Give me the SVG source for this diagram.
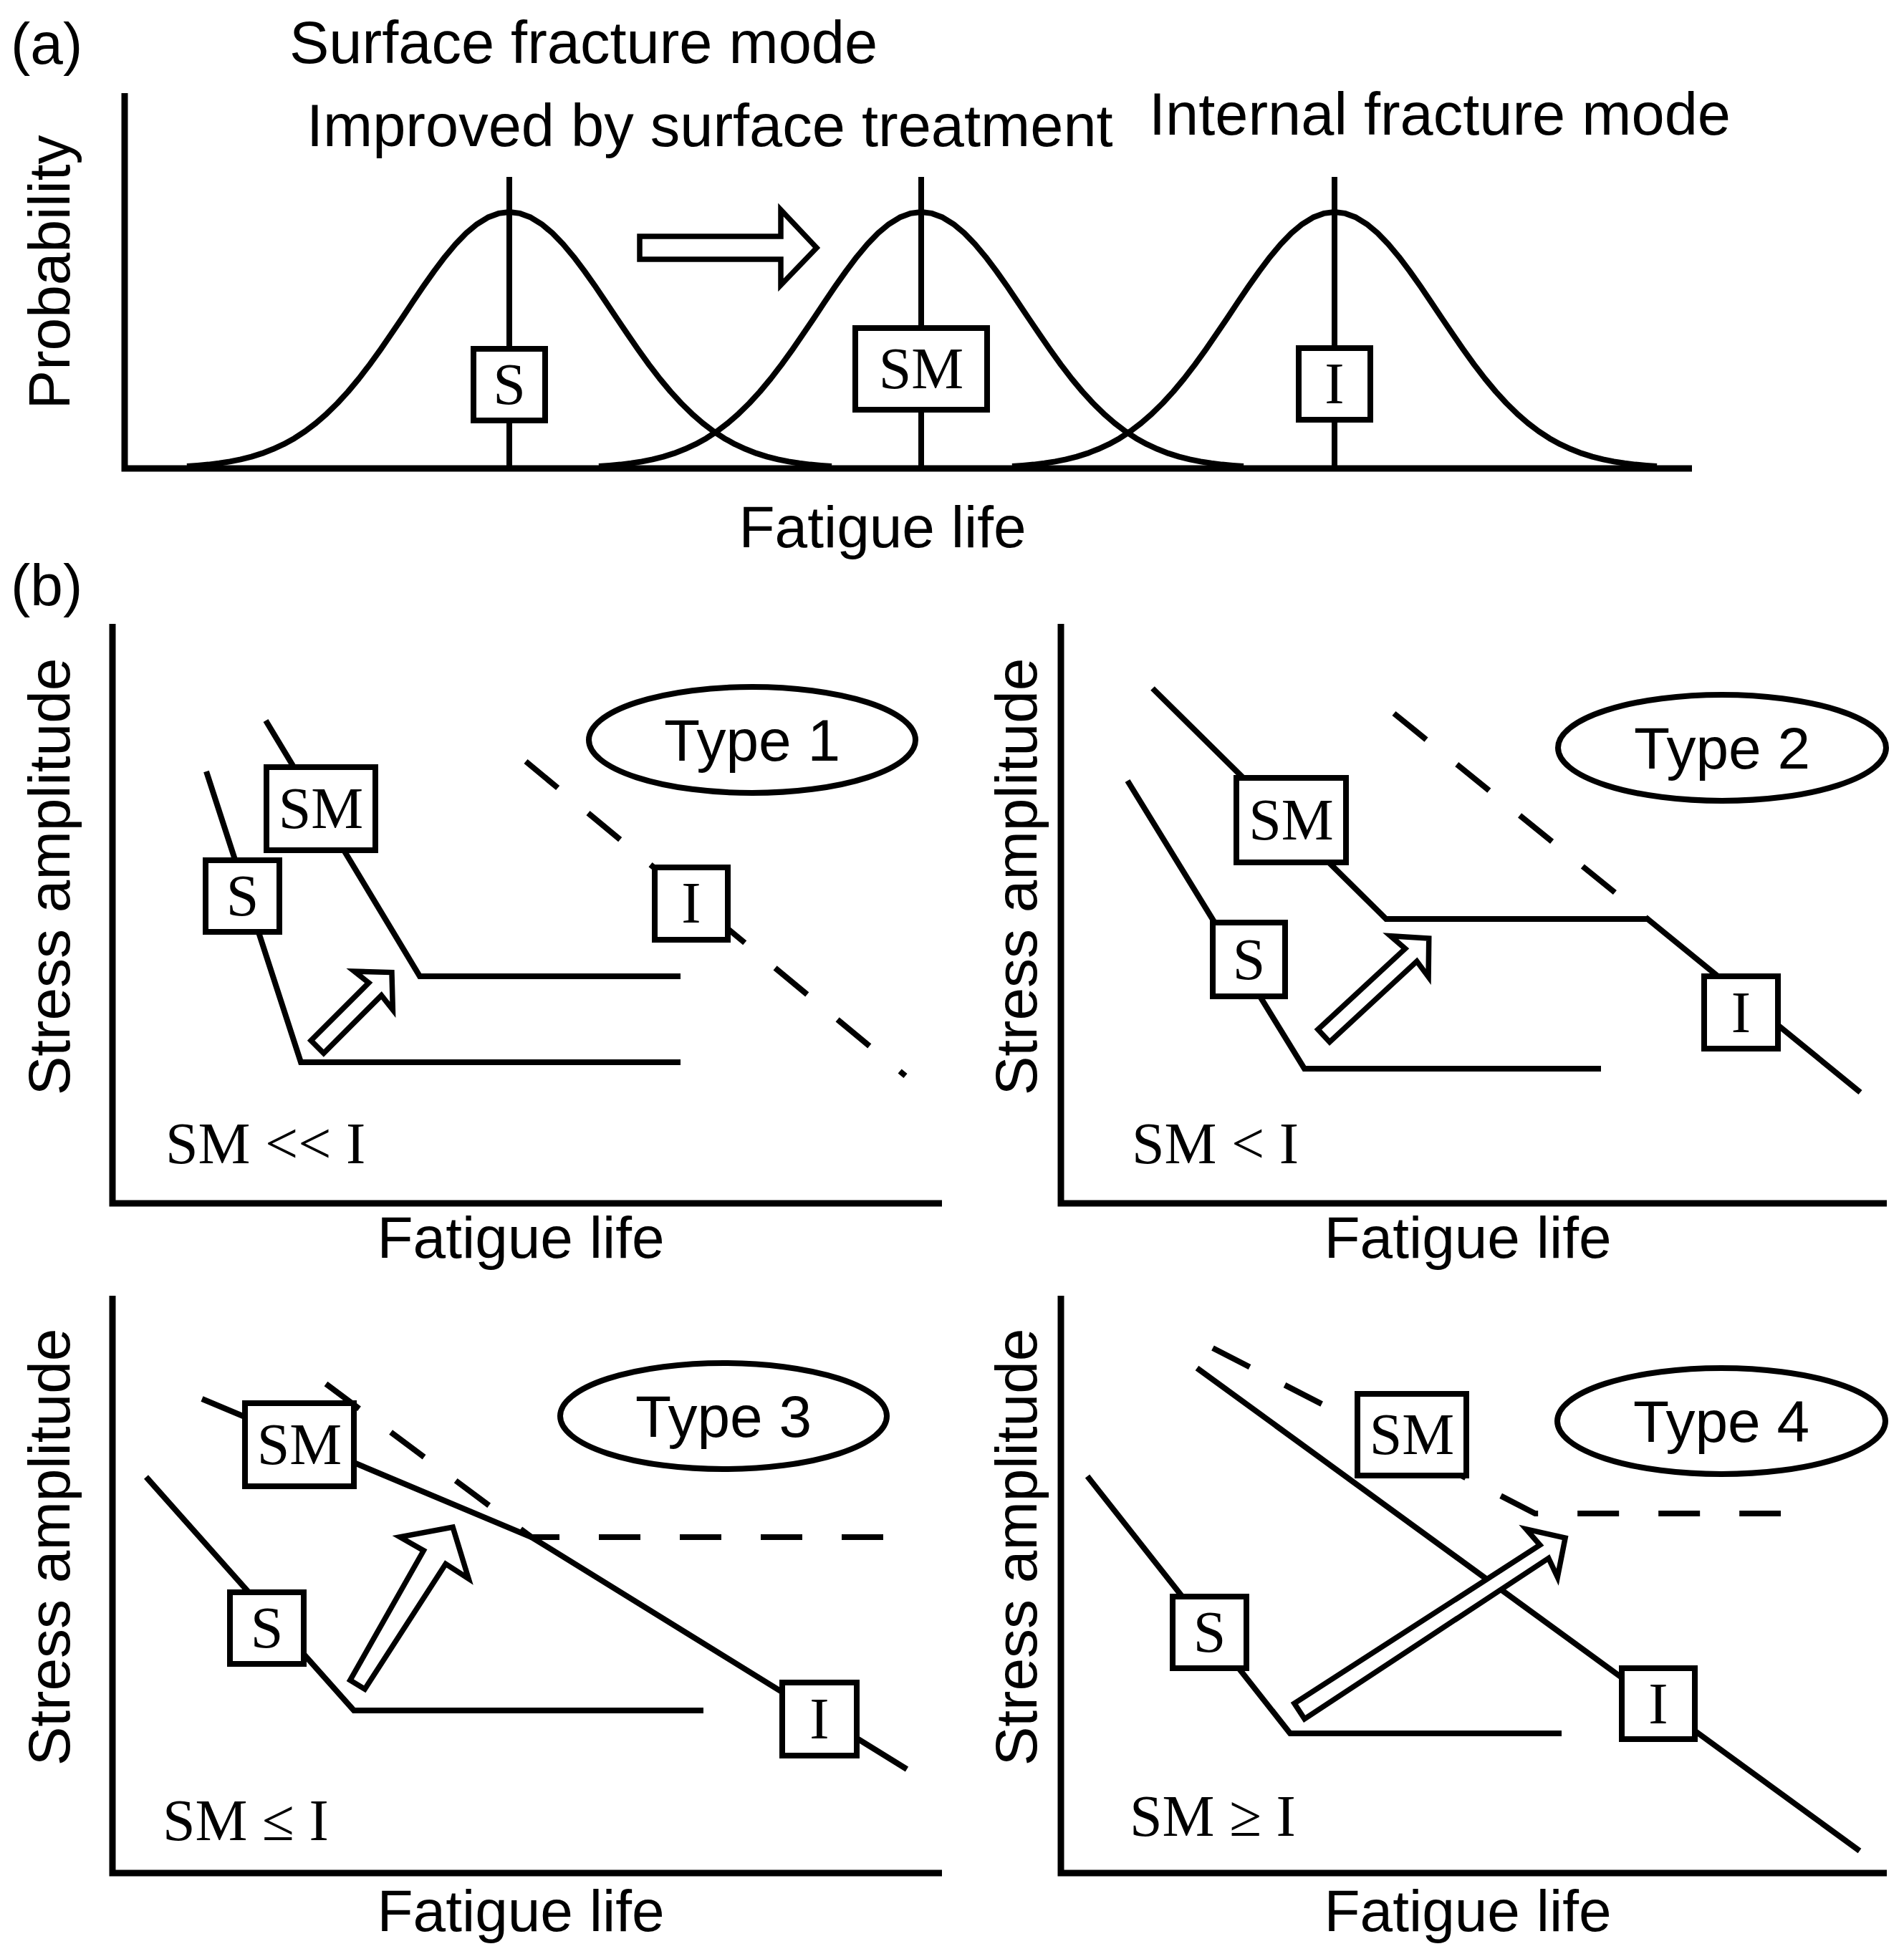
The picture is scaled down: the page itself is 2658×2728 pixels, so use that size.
<svg xmlns="http://www.w3.org/2000/svg" width="2658" height="2728" viewBox="0 0 2658 2728">
<style>
.sans{font-family:"Liberation Sans",Arial,sans-serif;font-size:82px;fill:#000}
.big{font-size:83px}
.serif{font-family:"Liberation Serif","Times New Roman",serif;font-size:82px;fill:#000}
.mid{text-anchor:middle}
.ax{fill:none;stroke:#000;stroke-width:9;stroke-linejoin:miter}
.ln{fill:none;stroke:#000;stroke-width:8;stroke-linejoin:miter}
.bell{fill:none;stroke:#000;stroke-width:8;stroke-linejoin:round}
.dash{fill:none;stroke:#000;stroke-width:8;stroke-dasharray:58 55;stroke-linejoin:miter}
.box{fill:#fff;stroke:#000;stroke-width:8}
.arrow{fill:#fff;stroke:#000;stroke-width:7.5;stroke-linejoin:miter}
.oval{fill:#fff;stroke:#000;stroke-width:8}
</style>
<defs>
<polyline id="bellcurve" class="bell" points="-450,355.1 -435,354 -420,352.6 -405,350.8 -390,348.4 -375,345.4 -360,341.6 -345,336.9 -330,331.1 -315,324.2 -300,315.9 -285,306.1 -270,294.8 -255,281.7 -240,267 -225,250.6 -210,232.6 -195,213.1 -180,192.3 -165,170.6 -150,148.4 -135,125.9 -120,103.8 -105,82.6 -90,62.7 -75,44.8 -60,29.3 -45,16.8 -30,7.6 -15,1.9 0,0 15,1.9 30,7.6 45,16.8 60,29.3 75,44.8 90,62.7 105,82.6 120,103.8 135,125.9 150,148.4 165,170.6 180,192.3 195,213.1 210,232.6 225,250.6 240,267 255,281.7 270,294.8 285,306.1 300,315.9 315,324.2 330,331.1 345,336.9 360,341.6 375,345.4 390,348.4 405,350.8 420,352.6 435,354 450,355.1"/>
</defs>
<rect width="2658" height="2728" fill="#fff"/>

<!-- Panel (a) -->
<g id="panel-a-labels">
<text class="sans" x="15" y="89">(a)</text>
<text class="sans big" x="404" y="88">Surface fracture mode</text>
<text class="sans big" x="428" y="204">Improved by surface treatment</text>
<text class="sans big" x="1604" y="188">Internal fracture mode</text>
<text class="sans mid" transform="translate(97,380) rotate(-90)">Probability</text>
<text class="sans mid" x="1232" y="764">Fatigue life</text>
</g>
<g id="axes-a">
<path class="ax" d="M174,130 L174,654 L2362,654"/>
</g>
<g id="connectors-a">
<use href="#bellcurve" x="711" y="296"/>
<use href="#bellcurve" x="1286" y="296"/>
<use href="#bellcurve" x="1863" y="296"/>
<line class="ln" x1="711" y1="247" x2="711" y2="654"/>
<line class="ln" x1="1286" y1="247" x2="1286" y2="654"/>
<line class="ln" x1="1863" y1="247" x2="1863" y2="654"/>
<polygon class="arrow" points="893,330 1090,330 1090,293 1140,346 1090,398 1090,362 893,362"/>
</g>
<g id="a-S"><rect class="box" x="661" y="487" width="100" height="100"/><text class="serif mid" x="711" y="564">S</text></g>
<g id="a-SM"><rect class="box" x="1194" y="458" width="184" height="114"/><text class="serif mid" x="1286" y="542">SM</text></g>
<g id="a-I"><rect class="box" x="1813" y="486" width="100" height="100"/><text class="serif mid" x="1863" y="563">I</text></g>

<!-- Panel (b) -->
<text class="sans" x="15" y="845">(b)</text>

<!-- Type 1 -->
<g id="type1-axes">
<path class="ax" d="M157,871 L157,1680 L1315,1680"/>
<text class="sans mid" transform="translate(97,1224) rotate(-90)">Stress amplitude</text>
<text class="sans mid" x="727" y="1756">Fatigue life</text>
<text class="serif" x="231" y="1624">SM &lt;&lt; I</text>
</g>
<g id="type1-connectors">
<path class="ln" d="M288,1077 L420,1483 L950,1483"/>
<path class="ln" d="M371,1006 L586,1363 L950,1363"/>
<path class="dash" d="M734,1063 L1264,1502"/>
<polygon class="arrow" transform="translate(443,1461.5) rotate(-45)" points="0,-12.5 114,-12.5 111,-38 147,0 111,38 114,12.5 0,12.5"/>
</g>
<g id="t1-S"><rect class="box" x="287" y="1201" width="103" height="100"/><text class="serif mid" x="338.5" y="1278">S</text></g>
<g id="t1-SM"><rect class="box" x="372" y="1071" width="152" height="116"/><text class="serif mid" x="448" y="1156">SM</text></g>
<g id="t1-I"><rect class="box" x="914" y="1211" width="102" height="101"/><text class="serif mid" x="965" y="1288">I</text></g>
<g id="t1-type"><ellipse class="oval" cx="1050" cy="1033" rx="228" ry="74"/><text class="sans mid" x="1050" y="1062">Type 1</text></g>

<!-- Type 2 -->
<g id="type2-axes">
<path class="ax" d="M1481,871 L1481,1680 L2634,1680"/>
<text class="sans mid" transform="translate(1447,1224) rotate(-90)">Stress amplitude</text>
<text class="sans mid" x="2049" y="1756">Fatigue life</text>
<text class="serif" x="1580" y="1624">SM &lt; I</text>
</g>
<g id="type2-connectors">
<path class="ln" d="M1574,1090 L1821,1492 L2235,1492"/>
<path class="ln" d="M1609,961 L1935,1283 L2300,1283 L2597,1525"/>
<path class="dash" d="M1946,996 L2300,1283"/>
<polygon class="arrow" transform="translate(1848,1446) rotate(-42.8)" points="0,-12 166,-12 163,-39 200,0 163,39 166,12 0,12"/>
</g>
<g id="t2-S"><rect class="box" x="1693" y="1288" width="101" height="103"/><text class="serif mid" x="1743.5" y="1367">S</text></g>
<g id="t2-SM"><rect class="box" x="1726" y="1086" width="153" height="118"/><text class="serif mid" x="1802.5" y="1172">SM</text></g>
<g id="t2-I"><rect class="box" x="2379" y="1363" width="103" height="101"/><text class="serif mid" x="2430.5" y="1441">I</text></g>
<g id="t2-type"><ellipse class="oval" cx="2404" cy="1044" rx="229" ry="74"/><text class="sans mid" x="2404" y="1073">Type 2</text></g>

<!-- Type 3 -->
<g id="type3-axes">
<path class="ax" d="M157,1809 L157,2615 L1315,2615"/>
<text class="sans mid" transform="translate(97,2160) rotate(-90)">Stress amplitude</text>
<text class="sans mid" x="727" y="2696">Fatigue life</text>
<text class="serif" x="227" y="2569">SM ≤ I</text>
</g>
<g id="type3-connectors">
<path class="ln" d="M204,2062 L494,2388 L982,2388"/>
<path class="ln" d="M282,1953 L742,2146 L1266,2470"/>
<path class="dash" d="M455,1932 L742,2146 L1234,2146"/>
<polygon class="arrow" transform="translate(499,2352) rotate(-58.8)" points="0,-12 208,-18 207,-56 257,0 207,56 208,18 0,12"/>
</g>
<g id="t3-S"><rect class="box" x="321" y="2223" width="103" height="100"/><text class="serif mid" x="372.5" y="2300">S</text></g>
<g id="t3-SM"><rect class="box" x="342" y="1959" width="152" height="116"/><text class="serif mid" x="418" y="2044">SM</text></g>
<g id="t3-I"><rect class="box" x="1092" y="2349" width="104" height="102"/><text class="serif mid" x="1144" y="2427">I</text></g>
<g id="t3-type"><ellipse class="oval" cx="1010" cy="1977" rx="228" ry="74"/><text class="sans mid" x="1010" y="2006">Type 3</text></g>

<!-- Type 4 -->
<g id="type4-axes">
<path class="ax" d="M1481,1809 L1481,2615 L2634,2615"/>
<text class="sans mid" transform="translate(1447,2160) rotate(-90)">Stress amplitude</text>
<text class="sans mid" x="2049" y="2696">Fatigue life</text>
<text class="serif" x="1577" y="2563">SM ≥ I</text>
</g>
<g id="type4-connectors">
<path class="ln" d="M1518,2061 L1801,2420 L2180,2420"/>
<path class="ln" d="M1671,1910 L2596,2584"/>
<path class="dash" d="M1693,1882 L2143,2113 L2486,2113"/>
<polygon class="arrow" transform="translate(1814,2389) rotate(-33.1)" points="0,-13 408,-11 404,-40 443,0 404,40 408,11 0,13"/>
</g>
<g id="t4-S"><rect class="box" x="1637" y="2229" width="103" height="100"/><text class="serif mid" x="1688.5" y="2306">S</text></g>
<g id="t4-SM"><rect class="box" x="1895" y="1946" width="152" height="114"/><text class="serif mid" x="1971" y="2030">SM</text></g>
<g id="t4-I"><rect class="box" x="2264" y="2329" width="102" height="99"/><text class="serif mid" x="2315" y="2406">I</text></g>
<g id="t4-type"><ellipse class="oval" cx="2403" cy="1984" rx="229" ry="74"/><text class="sans mid" x="2403" y="2013">Type 4</text></g>
</svg>
